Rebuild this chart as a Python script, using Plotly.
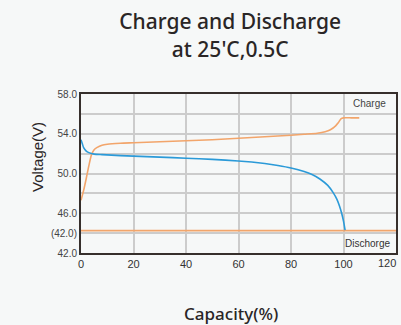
import plotly.graph_objects as go

# Charge curve (orange)
charge_cap = [0, 1, 2, 3, 4, 5, 6, 8, 10, 15, 20, 30, 40, 50, 60, 70, 80, 85, 90, 93, 95, 97, 98, 99, 100, 103, 106]
charge_v = [47.3, 48.3, 49.5, 50.8, 51.9, 52.4, 52.6, 52.85, 52.95, 53.05, 53.1, 53.2, 53.3, 53.4, 53.55, 53.7, 53.85, 53.95, 54.05, 54.2, 54.4, 54.8, 55.1, 55.5, 55.6, 55.6, 55.6]

# Discharge curve (blue)
dis_cap = [0, 0.5, 1, 2, 3, 5, 8, 15, 25, 35, 45, 55, 65, 70, 75, 80, 85, 88, 91, 94, 96, 97.5, 98.5, 99.3, 100, 100.6]
dis_v = [53.4, 53.0, 52.6, 52.25, 52.1, 51.95, 51.9, 51.8, 51.7, 51.6, 51.48, 51.35, 51.15, 51.0, 50.8, 50.55, 50.2, 49.9, 49.45, 48.8, 48.1, 47.4, 46.7, 46.0, 45.2, 44.3]

# Discharge cut-off line
cutoff_cap = [0, 120]
cutoff_v = [44.25, 44.25]

y_ticks = [42, 44, 46, 48, 50, 52, 54, 56, 58]
y_labels = ["42.0", "(42.0)", "46.0", "", "50.0", "", "54.0", "", "58.0"]
x_ticks = [0, 20, 40, 60, 80, 100, 120]
x_labels = ["0", "20", "40", "60", "80", "100", ""]

orange = "#f2a56b"
blue = "#2b9ad8"

fig = go.Figure()
fig.add_trace(go.Scatter(x=cutoff_cap, y=cutoff_v, mode="lines",
                         line=dict(color=orange, width=1.6), hoverinfo="skip"))
fig.add_trace(go.Scatter(x=charge_cap, y=charge_v, mode="lines",
                         line=dict(color=orange, width=1.6, shape="spline", smoothing=0.6)))
fig.add_trace(go.Scatter(x=dis_cap, y=dis_v, mode="lines",
                         line=dict(color=blue, width=1.6, shape="spline", smoothing=0.6)))

fig.add_annotation(x=117, y=57.0, xref="x", yref="y", text="Charge", showarrow=False,
                   xanchor="right", font=dict(size=10, color="#444", family="Liberation Sans"))
fig.add_annotation(x=118.5, y=42.95, xref="x", yref="y", text="Dischorge", showarrow=False,
                   xanchor="right", font=dict(size=10, color="#333", family="Liberation Sans"))
# last x tick label, pulled inside the page
fig.add_annotation(x=1, y=0, xref="paper", yref="paper", text="120", showarrow=False,
                   xanchor="center", yanchor="top", xshift=-9, yshift=-2,
                   font=dict(size=11, color="#333", family="Liberation Sans"))
# axis titles
fig.add_annotation(x=0.476, y=0, xref="paper", yref="paper", text="Capacity(%)", showarrow=False,
                   xanchor="center", yanchor="middle", yshift=-60,
                   font=dict(size=17, color="#2a2626", family="Noto Sans", weight=500))
fig.add_annotation(x=0, y=0.604, xref="paper", yref="paper", text="Voltage(V)", showarrow=False,
                   textangle=-90, xanchor="center", yanchor="middle", xshift=-43,
                   font=dict(size=15, color="#2a2626", family="Liberation Sans"))

fig.update_layout(
    width=401, height=325,
    margin=dict(l=81, r=5, t=94, b=72, autoexpand=False),
    paper_bgcolor="#f6f8f8", plot_bgcolor="#f6f8f8",
    showlegend=False, hovermode=False,
    title=dict(text="Charge and Discharge<br>at 25'C,0.5C", x=0.574, xanchor="center",
               yref="container", y=0.91, yanchor="middle",
               font=dict(size=21, color="#2a2626", family="Noto Sans", weight=500)),
)
fig.update_xaxes(range=[0, 120], tickvals=x_ticks, ticktext=x_labels, showgrid=True,
                 gridcolor="#cccccc", gridwidth=1.5,
                 showline=True, linecolor="#362f2c", linewidth=2, mirror=True, zeroline=False,
                 automargin=False,
                 tickfont=dict(size=11, color="#333", family="Liberation Sans"))
fig.update_yaxes(range=[42, 58], tickvals=y_ticks, ticktext=y_labels, showgrid=True,
                 gridcolor="#cccccc", gridwidth=1.5,
                 showline=True, linecolor="#362f2c", linewidth=2, mirror=True, zeroline=False,
                 automargin=False,
                 tickfont=dict(size=10, color="#444", family="Liberation Sans"))

fig.write_html("out.html", config={"displayModeBar": False},
               post_script="document.body.style.margin='0';document.body.style.overflow='hidden';"
                           "document.body.style.background='#f6f8f8';")
